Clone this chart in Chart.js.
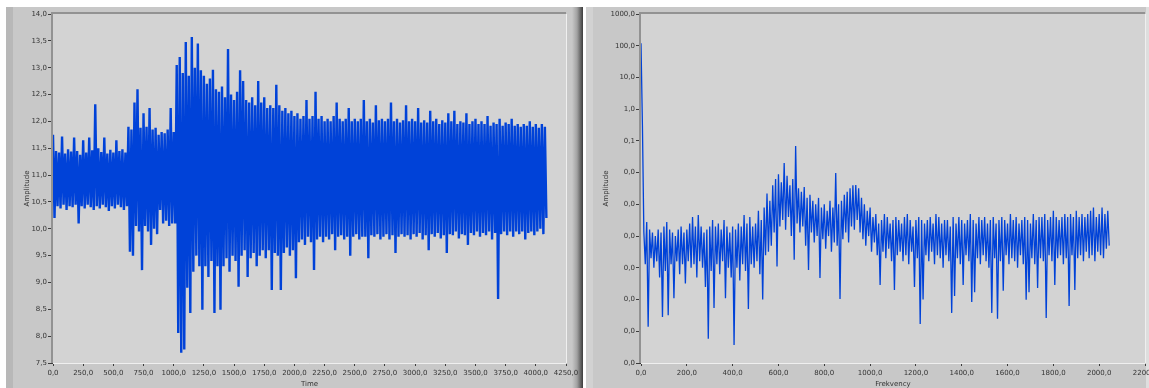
<!DOCTYPE html>
<html>
<head>
<meta charset="utf-8">
<script src="https://cdn.jsdelivr.net/npm/chart.js@4.4.1/dist/chart.umd.min.js"></script>
<style>
  html, body { margin: 0; padding: 0; background: #fff; }
  body { width: 1149px; height: 388px; position: relative; overflow: hidden; }
  .panel { position: absolute; top: 7px; height: 381px; }
  #leftPanel {
    left: 6px; width: 577px;
    background: linear-gradient(to right, #b8b8b8 0, #b8b8b8 7px, #c8c8c8 7px, #c8c8c8 566px, #a2a2a2 571px, #3c3c3c 577px);
  }
  #rightPanel {
    left: 586px; width: 563px;
    background: linear-gradient(to right, #d2d2d2 0, #d2d2d2 7px, #c8c8c8 7px, #c8c8c8 560px, #dedede 560px);
  }
  canvas { display: block; }
</style>
</head>
<body>
<div class="panel" id="leftPanel"><canvas id="timeChart" width="577" height="381"></canvas></div>
<div class="panel" id="rightPanel"><canvas id="specChart" width="563" height="381"></canvas></div>
<script>
// time signal, read per 25 samples: upper and lower excursion
const timeStep = 25;
const timeHi = [
  11.75, 11.45, 11.42, 11.72, 11.4, 11.48, 11.44, 11.7, 11.45, 11.38,
  11.65, 11.42, 11.7, 11.46, 12.32, 11.5, 11.43, 11.7, 11.4, 11.47,
  11.42, 11.65, 11.45, 11.48, 11.42, 11.9, 11.85, 12.35, 12.6, 11.88,
  12.15, 11.9, 12.25, 11.85, 11.88, 11.75, 11.8, 11.78, 11.85, 12.25,
  11.8, 13.05, 13.2, 12.9, 13.48, 12.85, 13.57, 13.0, 13.45, 12.95,
  12.85, 12.7, 12.8, 12.96, 12.6, 12.55, 12.65, 12.45, 13.35, 12.5,
  12.4, 12.55, 12.95, 12.75, 12.4, 12.35, 12.45, 12.3, 12.75, 12.35,
  12.45, 12.25, 12.3, 12.25, 12.68, 12.3, 12.2, 12.25, 12.15, 12.2,
  12.1, 12.15, 12.05, 12.1, 12.4, 12.05, 12.1, 12.55, 12.05, 12.1,
  12.0, 12.05, 12.0, 12.1, 12.35, 12.05, 12.0, 12.05, 12.25, 12.0,
  12.05, 12.0, 12.05, 12.4, 12.0, 12.05, 11.98, 12.3, 12.02, 12.05,
  12.0, 12.05, 12.35, 12.0, 12.05, 11.98, 12.02, 12.3, 12.0, 12.05,
  12.0, 12.25, 11.98, 12.02, 11.98, 12.2, 12.0, 12.05, 11.95, 12.02,
  11.98, 12.15, 12.0, 12.2, 11.95, 12.0, 11.98, 12.15, 11.95, 12.0,
  12.05, 11.95, 12.0, 11.95, 12.1, 11.92, 11.98, 11.95, 12.05, 11.92,
  11.98, 11.95, 12.05, 11.92, 11.95, 11.9, 11.95, 11.92, 12.0, 11.9,
  11.95, 11.88, 11.95, 11.9
];
const timeLo = [
  10.2, 10.42, 10.38, 10.45, 10.35, 10.42, 10.4, 10.45, 10.1, 10.42,
  10.38, 10.45, 10.4, 10.35, 10.42, 10.38, 10.45, 10.4, 10.33, 10.42,
  10.38, 10.45, 10.4, 10.35, 10.42, 9.57, 9.5, 10.05, 9.95, 9.23,
  10.05, 9.95, 9.7, 10.0, 9.9, 10.35, 10.1, 10.15, 10.05, 10.1,
  10.1, 8.06, 7.69, 7.75, 8.9, 8.43, 9.2, 9.5, 9.3, 8.49,
  9.3, 9.1, 9.4, 8.43, 9.3, 8.49, 9.3, 9.45, 9.2, 9.5,
  9.4, 8.92, 9.5, 9.6, 9.1, 9.45, 9.55, 9.3, 9.5, 9.6,
  9.45, 9.6, 8.86, 9.55, 9.5, 8.86, 9.55, 9.65, 9.5, 9.6,
  9.08, 9.75, 9.8, 9.7, 9.85, 9.75, 9.23, 9.8, 9.85, 9.75,
  9.85, 9.8, 9.9, 9.6, 9.85, 9.88, 9.8, 9.85, 9.5, 9.85,
  9.9, 9.8, 9.85, 9.85, 9.45, 9.88, 9.85, 9.9, 9.8, 9.85,
  9.9, 9.8, 9.88, 9.55, 9.85, 9.9, 9.85, 9.88, 9.8, 9.9,
  9.85, 9.92, 9.8, 9.88, 9.6, 9.9, 9.85, 9.92, 9.82, 9.88,
  9.55, 9.9, 9.88, 9.95, 9.82, 9.9, 9.88, 9.7, 9.92, 9.88,
  9.95, 9.85, 9.92, 9.88, 9.95, 9.8, 9.92, 8.69, 9.9, 9.95,
  9.88, 9.95, 9.85, 9.95, 9.9, 9.95, 9.8, 9.92, 9.95, 9.88,
  9.95, 10.0, 9.9, 10.2
];

// spectrum, read per 12.5 Hz: upper and lower excursion
const freqStep = 12.5;
const specHi = [
  120, 1.3e-4, 2.8e-4, 1.6e-4, 1.3e-4, 1.0e-4, 1.6e-4, 1.3e-4, 2.0e-4, 2.8e-4,
  1.6e-4, 1.3e-4, 1.0e-4, 1.6e-4, 2.0e-4, 1.3e-4, 1.6e-4, 2.5e-4, 4.0e-4, 2.0e-4,
  4.6e-4, 2.0e-4, 1.3e-4, 1.6e-4, 2.0e-4, 3.2e-4, 2.0e-4, 2.5e-4, 1.6e-4, 3.2e-4,
  2.0e-4, 1.3e-4, 2.0e-4, 1.6e-4, 2.5e-4, 2.0e-4, 4.6e-4, 2.5e-4, 4.0e-4, 2.0e-4,
  2.5e-4, 6.3e-4, 3.2e-4, 7.9e-4, 2.2e-3, 1.3e-3, 4.0e-3, 6.3e-3, 8.9e-3, 5.0e-3,
  2.0e-2, 7.9e-3, 4.0e-3, 6.3e-3, 6.9e-2, 3.2e-3, 2.5e-3, 3.5e-3, 1.6e-3, 2.0e-3,
  1.3e-3, 1.0e-3, 1.6e-3, 7.9e-4, 1.0e-3, 6.3e-4, 1.3e-3, 7.9e-4, 9.8e-3, 1.0e-3,
  1.3e-3, 2.0e-3, 2.5e-3, 3.2e-3, 4.0e-3, 4.1e-3, 3.2e-3, 1.6e-3, 1.0e-3, 6.3e-4,
  7.9e-4, 4.0e-4, 5.0e-4, 2.5e-4, 3.2e-4, 5.0e-4, 4.0e-4, 2.5e-4, 3.2e-4, 4.0e-4,
  3.2e-4, 2.5e-4, 4.0e-4, 5.0e-4, 3.2e-4, 2.0e-4, 3.2e-4, 4.0e-4, 3.2e-4, 2.5e-4,
  3.2e-4, 4.0e-4, 2.5e-4, 5.0e-4, 4.0e-4, 2.5e-4, 3.2e-4, 3.2e-4, 2.0e-4, 4.0e-4,
  2.5e-4, 4.0e-4, 3.2e-4, 2.5e-4, 3.2e-4, 5.0e-4, 3.2e-4, 2.5e-4, 4.0e-4, 3.2e-4,
  4.0e-4, 2.5e-4, 3.2e-4, 4.0e-4, 2.5e-4, 3.2e-4, 4.0e-4, 3.2e-4, 2.5e-4, 5.0e-4,
  3.2e-4, 4.0e-4, 2.5e-4, 3.2e-4, 4.0e-4, 3.2e-4, 2.5e-4, 5.0e-4, 3.2e-4, 4.0e-4,
  4.0e-4, 5.0e-4, 3.2e-4, 4.0e-4, 6.3e-4, 4.0e-4, 3.2e-4, 4.0e-4, 5.0e-4, 4.0e-4,
  5.0e-4, 4.0e-4, 6.3e-4, 4.0e-4, 5.0e-4, 4.0e-4, 5.0e-4, 6.3e-4, 7.9e-4, 4.0e-4,
  5.0e-4, 7.9e-4, 5.0e-4, 6.3e-4
];
const specLo = [
  0.3, 1.3e-5, 1.4e-7, 2.0e-5, 1.0e-5, 1.6e-5, 5.0e-6, 2.8e-7, 7.9e-6, 3.2e-7,
  1.3e-5, 1.1e-6, 1.6e-5, 6.3e-6, 1.3e-5, 3.2e-6, 1.6e-5, 1.0e-5, 1.3e-5, 5.0e-6,
  1.6e-5, 1.0e-5, 2.5e-6, 5.8e-8, 7.9e-6, 5.4e-7, 1.3e-5, 6.3e-6, 1.6e-5, 1.1e-6,
  1.0e-5, 5.0e-6, 3.7e-8, 1.0e-5, 4.0e-6, 1.3e-5, 7.9e-6, 5.0e-7, 1.3e-5, 1.0e-5,
  1.6e-5, 6.3e-6, 1.0e-6, 2.5e-5, 3.2e-5, 5.0e-5, 1.3e-4, 1.1e-5, 2.0e-4, 3.2e-4,
  1.6e-4, 4.0e-4, 1.0e-4, 1.8e-5, 2.5e-4, 1.3e-4, 2.0e-4, 5.0e-5, 8.5e-6, 1.3e-4,
  6.3e-5, 1.0e-4, 4.8e-6, 7.9e-5, 4.0e-5, 1.0e-4, 3.2e-5, 6.3e-5, 5.0e-5, 1.05e-6,
  7.9e-5, 1.3e-4, 6.3e-5, 2.0e-4, 1.6e-4, 3.2e-4, 1.3e-4, 7.9e-5, 5.0e-5, 1.0e-4,
  3.2e-5, 6.3e-5, 2.5e-5, 2.9e-6, 3.2e-5, 2.0e-5, 4.0e-5, 1.6e-5, 2.0e-6, 2.5e-5,
  3.2e-5, 1.6e-5, 2.5e-5, 1.3e-5, 3.2e-5, 2.5e-6, 2.0e-5, 1.7e-7, 1.0e-6, 2.5e-5,
  1.6e-5, 3.2e-5, 1.3e-5, 2.5e-5, 2.0e-5, 1.0e-5, 2.5e-5, 1.6e-5, 3.8e-7, 1.3e-6,
  2.0e-5, 1.3e-5, 2.9e-6, 2.5e-5, 1.6e-5, 8.3e-7, 1.7e-6, 2.0e-5, 1.3e-5, 2.5e-5,
  1.6e-5, 1.0e-5, 3.8e-7, 2.0e-5, 2.5e-7, 1.6e-5, 1.9e-6, 2.5e-5, 1.3e-5, 2.0e-5,
  1.6e-5, 1.0e-5, 2.5e-5, 1.3e-5, 9.8e-7, 1.7e-6, 2.0e-5, 1.3e-5, 2.3e-6, 2.0e-5,
  1.6e-5, 2.6e-7, 2.5e-5, 1.6e-5, 2.9e-6, 2.0e-5, 2.5e-5, 1.3e-5, 2.0e-5, 6.3e-7,
  2.5e-5, 2.0e-6, 2.0e-5, 2.5e-5, 1.6e-5, 3.2e-5, 2.0e-5, 2.5e-5, 1.6e-5, 3.2e-5,
  2.5e-5, 2.0e-5, 4.0e-5, 5.0e-5
];

const timeTicks = [0, 250, 500, 750, 1000, 1250, 1500, 1750, 2000, 2250, 2500, 2750, 3000, 3250, 3500, 3750, 4000, 4250];
const ampTicks = [7.5, 8, 8.5, 9, 9.5, 10, 10.5, 11, 11.5, 12, 12.5, 13, 13.5, 14];
const freqTicks = [0, 200, 400, 600, 800, 1000, 1200, 1400, 1600, 1800, 2000, 2200];
const specTicks = [1e-8, 1e-7, 1e-6, 1e-5, 1e-4, 1e-3, 1e-2, 0.1, 1, 10, 100, 1000];

// each reading becomes a high point then a low point
function zigzag(hi, lo, step) {
  const pts = [];
  hi.forEach((v, i) => {
    pts.push({ x: i * step, y: v });
    pts.push({ x: i * step + step / 2, y: lo[i] });
  });
  return pts;
}

const fmt = v => Number(v).toFixed(1).replace('.', ',');
const smallFont = { family: 'DejaVu Sans', size: 7 };

function axis(tickList, titleText, isY, size, titlePad) {
  return {
    min: tickList[0],
    max: tickList[tickList.length - 1],
    afterBuildTicks: s => { s.ticks = tickList.map(v => ({ value: v })); },
    afterFit: s => {
      if (isY) s.width = size; else s.height = size;
      s.paddingLeft = 0; s.paddingRight = 0; s.paddingTop = 0; s.paddingBottom = 0;
    },
    grid: { drawOnChartArea: false, drawTicks: true, tickLength: isY ? 5 : 3, tickColor: '#3c3c3c', tickWidth: 1 },
    border: { display: false },
    ticks: { autoSkip: false, maxRotation: 0, padding: isY ? 1 : 3, color: '#333', font: smallFont, callback: v => fmt(v) },
    title: { display: true, text: titleText, color: '#333', font: smallFont, padding: isY ? { top: titlePad, bottom: 0 } : { top: 0, bottom: 0 } }
  };
}

// plot background and the sunken frame
const plotFrame = {
  id: 'plotFrame',
  beforeDatasetsDraw(chart) {
    const { ctx, chartArea: a } = chart;
    ctx.save();
    ctx.fillStyle = '#d3d3d3';
    ctx.fillRect(a.left, a.top, a.right - a.left, a.bottom - a.top);
    ctx.lineWidth = 1;
    ctx.strokeStyle = '#efefef';
    ctx.beginPath();
    ctx.moveTo(a.left, a.bottom + 0.5); ctx.lineTo(a.right + 0.5, a.bottom + 0.5);
    ctx.lineTo(a.right + 0.5, a.top);
    ctx.stroke();
    ctx.lineWidth = 2;
    ctx.strokeStyle = '#929292';
    ctx.beginPath();
    ctx.moveTo(a.left - 1, a.bottom); ctx.lineTo(a.left - 1, a.top - 1); ctx.lineTo(a.right, a.top - 1);
    ctx.stroke();
    ctx.restore();
  }
};

function makeChart(id, points, xTicks, yTicks, xTitle, yType, yWidth, rightPad, yTitlePad, lineW) {
  return new Chart(document.getElementById(id), {
    type: 'line',
    data: {
      datasets: [{
        data: points,
        borderColor: '#0042d8',
        borderWidth: lineW,
        borderJoinStyle: 'bevel',
        pointRadius: 0,
        tension: 0,
        fill: false
      }]
    },
    options: {
      responsive: false,
      animation: false,
      events: [],
      layout: { padding: { left: 0, right: rightPad, top: 7, bottom: 0 } },
      plugins: { legend: { display: false }, tooltip: { enabled: false } },
      scales: {
        x: Object.assign({ type: 'linear' }, axis(xTicks, xTitle, false, 25, 0)),
        y: Object.assign({ type: yType }, axis(yTicks, 'Amplitude', true, yWidth, yTitlePad))
      }
    },
    plugins: [plotFrame]
  });
}

makeChart('timeChart', zigzag(timeHi, timeLo, timeStep), timeTicks, ampTicks, 'Time', 'linear', 47, 17, 17, 2.4);
makeChart('specChart', zigzag(specHi, specLo, freqStep), freqTicks, specTicks, 'Frekvency', 'logarithmic', 55, 4, 16, 1.3);
</script>
</body>
</html>
